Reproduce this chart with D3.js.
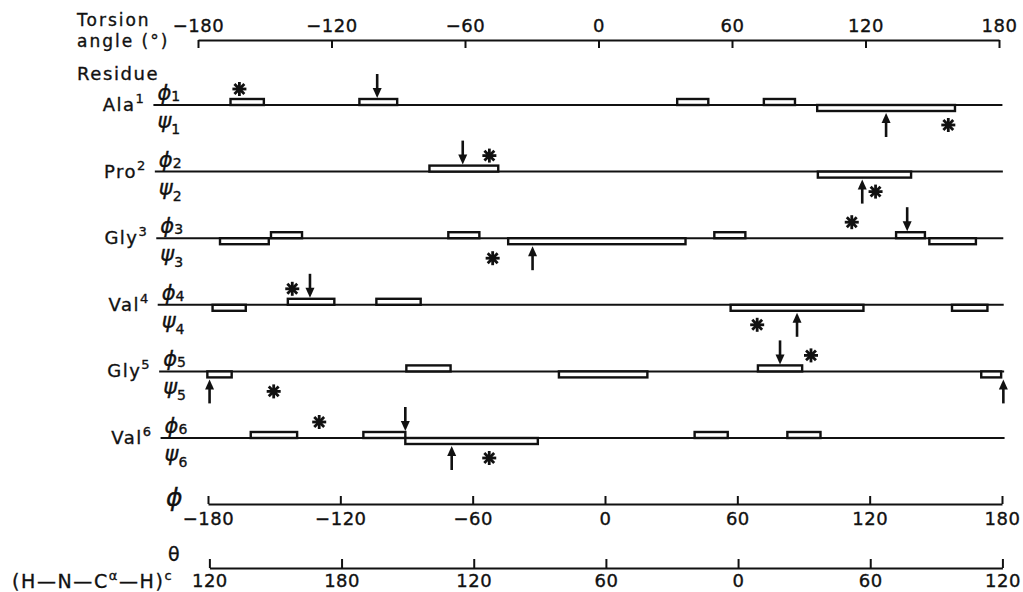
<!DOCTYPE html>
<html>
<head>
<meta charset="utf-8">
<script src="https://cdn.jsdelivr.net/npm/d3@7"></script>
<style>
  body { margin: 0; background: #fff; }
  svg text { font-family: "DejaVu Sans", sans-serif; fill: #111; stroke: #111; stroke-width: 0.35px; }
</style>
</head>
<body>
<div id="chart"></div>
<script>
// torsion angle ranges per residue (phi above the line, psi below)
const RESIDUE_NAMES = ["Ala", "Pro", "Gly", "Val", "Gly", "Val"];
const RESIDUE_NUMS = ["1", "2", "3", "4", "5", "6"];
const PHI_TICKS = [-180, -120, -60, 0, 60, 120, 180];
const THETA_LABELS = ["120", "180", "120", "60", "0", "60", "120"];

// [residue index, from, to]
const PHI_BARS = [
  [0, -166, -151], [0, -108, -91], [0, 35, 49], [0, 74, 88],
  [1, -77, -46],
  [2, -149, -135], [2, -69, -55], [2, 51, 65], [2, 133, 146],
  [3, -142, -121], [3, -102, -82],
  [4, -89, -69], [4, 70, 90],
  [5, -160, -139], [5, -109, -90], [5, 41, 56], [5, 83, 98]
];
const PSI_BARS = [
  [0, 98, 160],
  [1, 98, 140],
  [2, -172, -150], [2, -42, 38], [2, 148, 169],
  [3, -176, -161], [3, 58, 118], [3, 158, 174],
  [4, -179, -168], [4, -20, 20], [4, 171, 180],
  [5, -90, -30]
];
// [residue index, angle]
const PHI_ARROWS = [[0, -100], [1, -62], [2, 138], [3, -132], [4, 80], [5, -90]];
const PSI_ARROWS = [[0, 129], [1, 118], [2, -31], [3, 88], [4, -178], [4, 181], [5, -69]];
const PHI_STARS = [[0, -162], [1, -50], [2, 113], [3, -140], [4, 94], [5, -129]];
const PSI_STARS = [[0, 157], [1, 124], [2, -49], [3, 70], [4, -149], [5, -52]];

const WIDTH = 1023, HEIGHT = 592;
const FONT = 18;

const svg = d3.select("#chart").append("svg")
  .attr("width", WIDTH)
  .attr("height", HEIGHT);

// rows and axes
const TOP_AXIS_Y = 40, PHI_AXIS_Y = 504, THETA_AXIS_Y = 568;
const rowY = d3.scaleLinear().domain([0, 5]).range([105, 438]);

// the scanned figure is a little skewed: the angle scale drifts with y
function xAt(y) {
  const t = (y - TOP_AXIS_Y) / (PHI_AXIS_Y - TOP_AXIS_Y);
  return d3.scaleLinear()
    .domain([-180, 180])
    .range([198 + 10 * t, 999 + 3 * t]);
}

function styleAxis(g) {
  g.attr("font-family", null).attr("font-size", null);
  g.selectAll("path, line").attr("stroke", "#111").attr("stroke-width", 2);
  g.selectAll("text").style("font-size", FONT + "px").style("letter-spacing", "0.5px");
}

// TOP AXIS
const topScale = xAt(TOP_AXIS_Y);
svg.append("g")
  .attr("transform", `translate(0,${TOP_AXIS_Y})`)
  .call(d3.axisTop(topScale).tickValues(PHI_TICKS).tickSizeInner(-8).tickSizeOuter(0).tickPadding(8))
  .call(styleAxis);

const titleG = svg.append("g").style("font-size", "17px").style("letter-spacing", "2px");
titleG.append("text").attr("x", 77).attr("y", 26).text("Torsion");
titleG.append("text").attr("x", 77).attr("y", 47).text("angle (°)");
titleG.append("text").attr("x", 77).attr("y", 80).style("font-size", "18px").style("letter-spacing", "1.6px").text("Residue");

// ROWS
RESIDUE_NAMES.forEach((name, i) => {
  const y = rowY(i);
  const x = xAt(y);
  const lineStart = x(-180) - 46;
  const g = svg.append("g").attr("class", "row");

  g.append("line")
    .attr("x1", lineStart).attr("x2", x(180) + 3)
    .attr("y1", y).attr("y2", y)
    .attr("stroke", "#111").attr("stroke-width", 2);

  const lab = g.append("text")
    .attr("x", lineStart - 8).attr("y", y + 6)
    .attr("text-anchor", "end")
    .style("font-size", "18px")
    .style("letter-spacing", "1.5px");
  lab.append("tspan").text(name);
  lab.append("tspan").attr("dy", -8).style("font-size", "13px").text(RESIDUE_NUMS[i]);

  const phi = g.append("text").attr("x", lineStart + 4).attr("y", y - 5)
    .style("font-size", "21px").style("font-style", "italic");
  phi.append("tspan").text("ϕ");
  phi.append("tspan").attr("dy", 1).style("font-size", "14px").style("font-style", "normal").text(RESIDUE_NUMS[i]);

  const psi = g.append("text").attr("x", lineStart + 4).attr("y", y + 23)
    .style("font-size", "21px").style("font-style", "italic");
  psi.append("tspan").text("ψ");
  psi.append("tspan").attr("dy", 6).style("font-size", "14px").style("font-style", "normal").text(RESIDUE_NUMS[i]);
});

// BARS
const BAR_H = 6;
function drawBars(data, above) {
  svg.append("g").selectAll("rect")
    .data(data)
    .join("rect")
    .attr("x", d => xAt(rowY(d[0]))(d[1]))
    .attr("width", d => xAt(rowY(d[0]))(d[2]) - xAt(rowY(d[0]))(d[1]))
    .attr("y", d => above ? rowY(d[0]) - BAR_H : rowY(d[0]))
    .attr("height", BAR_H)
    .attr("fill", "#fff")
    .attr("stroke", "#111")
    .attr("stroke-width", 2.4);
}
drawBars(PHI_BARS, true);
drawBars(PSI_BARS, false);

// ARROWS
function drawArrows(data, down) {
  const g = svg.append("g").selectAll("g")
    .data(data)
    .join("g")
    .attr("transform", d => {
      const y = rowY(d[0]);
      const tip = down ? y - BAR_H - 1 : y + BAR_H + 2;
      return `translate(${xAt(y)(d[1])},${tip})`;
    });
  const s = down ? -1 : 1;
  g.append("line")
    .attr("x1", 0).attr("x2", 0)
    .attr("y1", s * 6).attr("y2", s * 24)
    .attr("stroke", "#111").attr("stroke-width", 2.6);
  g.append("path")
    .attr("d", `M0,0L-4.5,${s * 10}L4.5,${s * 10}Z`)
    .attr("fill", "#111");
}
drawArrows(PHI_ARROWS, true);
drawArrows(PSI_ARROWS, false);

// STARS
function drawStars(data, offset) {
  const r = 7;
  const g = svg.append("g").selectAll("g")
    .data(data)
    .join("g")
    .attr("transform", d => {
      const y = rowY(d[0]);
      return `translate(${xAt(y)(d[1])},${y + offset})`;
    });
  [0, 45, 90, 135].forEach(a => {
    const rad = a * Math.PI / 180;
    g.append("line")
      .attr("x1", -r * Math.cos(rad)).attr("y1", -r * Math.sin(rad))
      .attr("x2", r * Math.cos(rad)).attr("y2", r * Math.sin(rad))
      .attr("stroke", "#111").attr("stroke-width", 2.8);
  });
  g.append("circle").attr("r", 3.2).attr("fill", "#111");
}
drawStars(PHI_STARS, -16);
drawStars(PSI_STARS, 20);

// BOTTOM AXES
const phiScale = xAt(PHI_AXIS_Y);
svg.append("g")
  .attr("transform", `translate(0,${PHI_AXIS_Y})`)
  .call(d3.axisBottom(phiScale).tickValues(PHI_TICKS).tickSizeInner(-8).tickSizeOuter(0).tickPadding(8))
  .call(styleAxis);
svg.append("text")
  .attr("x", 166).attr("y", 506)
  .style("font-size", "25px").style("font-style", "italic")
  .text("ϕ");

const thetaScale = xAt(THETA_AXIS_Y);
svg.append("g")
  .attr("transform", `translate(0,${THETA_AXIS_Y})`)
  .call(d3.axisBottom(thetaScale).tickValues(PHI_TICKS).tickSizeInner(-9).tickSizeOuter(0).tickPadding(6)
    .tickFormat((d, i) => THETA_LABELS[i]))
  .call(styleAxis);
svg.append("text")
  .attr("x", 168).attr("y", 561)
  .style("font-size", "19px")
  .text("θ");

const hn = svg.append("text").attr("x", 12).attr("y", 588)
  .style("font-size", "19px").style("letter-spacing", "1.6px");
hn.append("tspan").text("(H—N—C");
hn.append("tspan").attr("dy", -8).style("font-size", "13px").text("α");
hn.append("tspan").attr("dy", 8).text("—H)");
hn.append("tspan").attr("dy", -8).style("font-size", "13px").text("c");
</script>
</body>
</html>
